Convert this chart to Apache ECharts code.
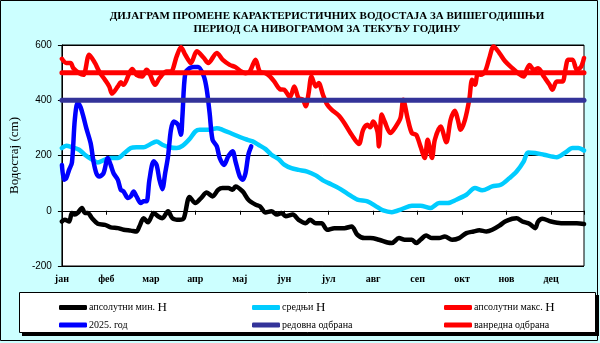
<!DOCTYPE html>
<html>
<head>
<meta charset="utf-8">
<script src="https://cdn.jsdelivr.net/npm/echarts@6/dist/echarts.min.js"></script>
<style>
  html, body { margin: 0; padding: 0; background: #ccffff; }
  #chart { width: 600px; height: 343px; }
</style>
</head>
<body>
<div id="chart"></div>
<script>
// Month labels, one every 31 days along the day axis
const months = ['јан', 'феб', 'мар', 'апр', 'мај', 'јун', 'јул', 'авг', 'сеп', 'окт', 'нов', 'дец'];
const yTicks = [-200, 0, 200, 400, 600];

// Absolute minimum water level, [day of year, cm]
const minH = [[0,-39],[2,-33],[5,-39],[7,-8],[9,-14],[11,-8],[14,10],[16,-8],[18,-8],[21,-27],[25,-47],[30,-51],[34,-60],[39,-63],[43,-69],[48,-72],[52,-75],[54,-57],[57,-27],[60,-42],[64,-8],[67,-20],[70,-27],[74,-2],[77,-27],[82,-33],[85,-27],[89,50],[93,28],[97,46],[101,66],[105,52],[109,76],[112,82],[116,82],[119,76],[121,88],[126,70],[130,40],[135,22],[138,16],[142,-6],[146,-2],[150,-14],[153,-8],[156,-20],[161,-14],[165,-33],[170,-45],[173,-33],[177,-45],[181,-45],[185,-69],[190,-63],[197,-63],[202,-57],[206,-87],[211,-99],[215,-99],[221,-105],[227,-115],[230,-117],[235,-99],[239,-105],[244,-105],[247,-117],[250,-105],[254,-90],[258,-99],[263,-99],[267,-93],[272,-105],[277,-99],[282,-81],[287,-75],[291,-71],[296,-75],[300,-69],[305,-54],[309,-39],[314,-29],[317,-27],[321,-39],[325,-45],[327,-51],[330,-63],[332,-39],[335,-29],[341,-39],[348,-45],[355,-45],[359,-45],[364,-48]];

// Mean water level
const meanH = [[0,227],[3,235],[7,230],[12,221],[16,203],[21,185],[25,175],[30,185],[34,191],[39,191],[43,206],[48,227],[52,230],[57,230],[61,239],[66,251],[70,239],[75,230],[80,227],[84,235],[89,260],[93,287],[96,293],[103,293],[108,299],[112,293],[119,278],[124,267],[128,259],[133,251],[137,239],[142,223],[146,203],[151,187],[155,167],[160,154],[165,148],[171,142],[177,128],[182,110],[186,100],[193,82],[199,62],[206,40],[213,34],[219,16],[224,1],[230,-5],[237,6],[244,18],[250,18],[257,10],[263,28],[269,28],[275,40],[282,58],[288,82],[293,74],[300,88],[306,94],[312,118],[317,142],[322,179],[325,211],[330,209],[336,203],[345,194],[351,211],[356,227],[360,227],[364,218]];

// Absolute maximum water level
const maxH = [[0,550],[3,535],[6,535],[8,516],[12,498],[15,492],[19,565],[23,535],[26,504],[30,474],[33,450],[35,424],[39,450],[41,465],[43,456],[47,498],[49,513],[52,492],[56,486],[59,510],[61,498],[65,456],[68,480],[73,504],[76,504],[80,559],[83,592],[86,565],[90,535],[94,577],[99,553],[102,535],[108,571],[112,547],[117,528],[121,520],[125,504],[128,498],[131,504],[135,547],[138,504],[142,498],[145,486],[148,468],[152,440],[155,438],[159,411],[162,450],[165,408],[168,402],[170,378],[172,426],[174,486],[177,450],[179,462],[182,420],[185,384],[188,366],[193,345],[197,317],[202,275],[207,242],[210,293],[213,311],[215,302],[217,323],[220,287],[221,233],[223,348],[225,323],[229,281],[232,299],[236,335],[238,402],[241,335],[244,281],[247,275],[250,233],[253,191],[255,257],[258,191],[260,257],[264,305],[268,248],[271,329],[274,362],[276,330],[278,293],[281,329],[284,402],[286,474],[288,456],[290,498],[292,492],[295,504],[298,553],[301,595],[305,571],[309,541],[314,516],[318,498],[322,486],[324,510],[326,528],[329,510],[332,516],[336,486],[340,456],[342,438],[345,468],[349,468],[351,510],[353,547],[356,547],[359,510],[362,522],[364,553]];

// Current year (2025) levels
const level2025 = [[0,166],[1.5,112],[3,118],[5,148],[7,175],[9,330],[11,392],[13,375],[15,340],[17,299],[20,245],[22,179],[24,136],[26,124],[29,136],[32,191],[34,166],[36,136],[39,112],[41,76],[43,70],[46,46],[48,52],[50,70],[52,52],[55,28],[57,34],[59,34],[61,112],[64,179],[66,166],[68,112],[70,78],[72,136],[74,197],[76,293],[78,323],[81,311],[83,275],[84,341],[86,498],[89,516],[92,520],[95,520],[99,486],[101,438],[103,353],[105,257],[108,233],[110,191],[113,166],[116,197],[119,215],[121,179],[124,124],[126,112],[128,136],[130,203],[132,233]];

// Flood defence thresholds
const regularDefence = 400;
const emergencyDefence = 500;
const yearEnd = 364;

const names = ['апсолутни мин. Н', 'средњи Н', 'апсолутни макс. Н', '2025. год', 'редовна одбрана', 'ванредна одбрана'];

const chart = echarts.init(document.getElementById('chart'), null, { renderer: 'canvas' });

function lineSeries(name, data, color, width) {
  return {
    name: name,
    type: 'line',
    data: data,
    showSymbol: false,
    symbol: 'none',
    smooth: 0.3,
    lineStyle: { color: color, width: width, cap: 'round', join: 'round' },
    itemStyle: { color: color },
    animation: false
  };
}

const legendText = {
  fontFamily: '"Liberation Serif", serif',
  fontSize: 10,
  color: '#000',
  padding: [0, 0, 0, -3],
  rich: { h: { fontFamily: '"Liberation Serif", serif', fontSize: 13, color: '#000' } }
};
function legendFormatter(name) {
  return name.endsWith(' Н') ? name.slice(0, -1) + '{h|Н}' : name;
}
function legendColumn(left, items) {
  return {
    data: items,
    orient: 'vertical',
    left: left,
    top: 296,
    itemGap: 6,
    itemWidth: 28,
    itemHeight: 5,
    icon: 'roundRect',
    selectedMode: false,
    textStyle: legendText,
    formatter: legendFormatter
  };
}

const option = {
  backgroundColor: '#ccffff',
  animation: false,
  grid: {
    left: 48, top: 45, width: 536, height: 221,
    show: true, backgroundColor: '#ffffff', borderColor: '#000', borderWidth: 1
  },
  xAxis: {
    type: 'value',
    min: 0, max: yearEnd, interval: 31,
    axisLine: { show: true, lineStyle: { color: '#000', width: 1 } },
    axisTick: { show: true, length: 4, lineStyle: { color: '#000' } },
    splitLine: { show: false },
    axisLabel: {
      margin: 8,
      color: '#000',
      fontFamily: '"Liberation Serif", serif',
      fontWeight: 'bold',
      fontSize: 10,
      formatter: function (v) {
        const i = v / 31;
        return Number.isInteger(i) && i < months.length ? months[i] : '';
      }
    }
  },
  yAxis: {
    type: 'value',
    min: yTicks[0], max: yTicks[yTicks.length - 1], interval: 200,
    name: 'Водостај (cm)',
    nameLocation: 'middle',
    nameGap: 30,
    nameRotate: 90,
    nameTextStyle: { fontFamily: '"Liberation Serif", serif', fontSize: 13, color: '#000' },
    axisLine: { show: true, lineStyle: { color: '#000', width: 1 } },
    axisTick: { show: true, length: 4, lineStyle: { color: '#000' } },
    splitLine: { show: true, lineStyle: { color: '#000', width: 1 } },
    axisLabel: {
      margin: 10,
      color: '#000',
      fontFamily: '"Liberation Sans", Arial, sans-serif',
      fontSize: 10
    }
  },
  legend: [
    legendColumn(54, [names[0], names[3]]),
    legendColumn(247, [names[1], names[4]]),
    legendColumn(439, [names[2], names[5]])
  ],
  graphic: [
    { type: 'rect', z: 0, shape: { x: 0.5, y: 0.5, width: 597, height: 340 }, style: { fill: null, stroke: '#000', lineWidth: 1 } },
    { type: 'rect', z: 0, shape: { x: 22, y: 295, width: 577, height: 41 }, style: { fill: '#000' } },
    { type: 'rect', z: 1, shape: { x: 19.5, y: 292.5, width: 576, height: 40 }, style: { fill: '#fff', stroke: '#000', lineWidth: 1 } },
    { type: 'text', z: 5, x: 327, y: 16, style: { text: 'ДИЈАГРАМ ПРОМЕНЕ КАРАКТЕРИСТИЧНИХ ВОДОСТАЈА ЗА ВИШЕГОДИШЊИ', textAlign: 'center', textVerticalAlign: 'middle', font: 'bold 11px "Liberation Serif"', fill: '#000' } },
    { type: 'text', z: 5, x: 327, y: 29.5, style: { text: 'ПЕРИОД СА НИВОГРАМОМ ЗА ТЕКУЋУ ГОДИНУ', textAlign: 'center', textVerticalAlign: 'middle', font: 'bold 11px "Liberation Serif"', fill: '#000' } }
  ],
  series: [
    lineSeries(names[0], minH, '#000000', 4.5),
    lineSeries(names[1], meanH, '#00ccff', 4.5),
    lineSeries(names[2], maxH, '#ff0000', 4.5),
    lineSeries(names[3], level2025, '#0000ff', 4.5),
    Object.assign(lineSeries(names[4], [[0, regularDefence], [yearEnd, regularDefence]], '#333399', 5), { smooth: false }),
    Object.assign(lineSeries(names[5], [[0, emergencyDefence], [yearEnd, emergencyDefence]], '#ff0000', 5), { smooth: false })
  ]
};

chart.setOption(option);
</script>
</body>
</html>
